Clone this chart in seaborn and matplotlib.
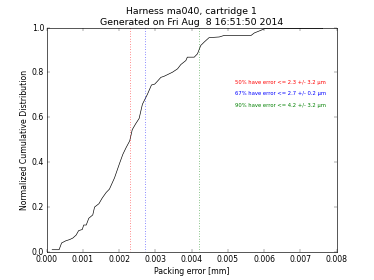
import matplotlib
matplotlib.use("Agg")
import matplotlib.pyplot as plt
import seaborn as sns
import pandas as pd

# cumulative distribution of packing error
err_mm = [0.00015, 0.00034, 0.00041, 0.00053, 0.00063, 0.00072, 0.00081, 0.00088,
          0.00098, 0.00102, 0.00109, 0.00116, 0.00127, 0.00132, 0.00144, 0.00153,
          0.00164, 0.00173, 0.00187, 0.00201, 0.00210, 0.00219, 0.00229, 0.00236,
          0.00245, 0.00255, 0.00264, 0.00278, 0.00289, 0.00298, 0.00305, 0.00315,
          0.00324, 0.00333, 0.00347, 0.00361, 0.00370, 0.00384, 0.00388, 0.00407,
          0.00416, 0.00425, 0.00435, 0.00448, 0.00476, 0.00490, 0.00564, 0.00573,
          0.00596, 0.00601, 0.00761, 0.00762]
cum_frac = [0.01, 0.01, 0.04, 0.05, 0.055, 0.062, 0.075, 0.095,
            0.10, 0.12, 0.12, 0.15, 0.165, 0.20, 0.215, 0.24,
            0.265, 0.28, 0.33, 0.395, 0.435, 0.465, 0.495, 0.545,
            0.57, 0.595, 0.658, 0.703, 0.744, 0.748, 0.760, 0.778,
            0.783, 0.790, 0.801, 0.816, 0.835, 0.853, 0.868, 0.868,
            0.883, 0.920, 0.936, 0.955, 0.958, 0.965, 0.965, 0.976,
            0.991, 0.995, 0.995, 1.0]

pct_levels = [50, 67, 90]
pct_err_um = [2.3, 2.7, 4.2]
pct_unc_um = [3.2, 0.2, 3.2]
pct_colors = ["r", "b", "g"]

plt.style.use("classic")
fig, ax = plt.subplots(figsize=(8, 6), dpi=46.75)
fig.patch.set_facecolor("white")

df = pd.DataFrame({"err": err_mm, "frac": cum_frac})
sns.lineplot(data=df, x="err", y="frac", ax=ax, color="k", lw=1.0,
             estimator=None, sort=False)

for i, (p, e, u, c) in enumerate(zip(pct_levels, pct_err_um, pct_unc_um, pct_colors)):
    ax.axvline(e / 1000.0, color=c, ls=":", lw=1.0)
    ax.text(0.65, 0.75 - 0.05 * i,
            f"{p}% have error <= {e:.1f} +/- {u:.1f} \u03bcm",
            color=c, fontsize=8, transform=ax.transAxes)

ax.set_xlim(0, 0.008)
ax.set_ylim(0, 1.0)
ax.set_xticks([i * 0.001 for i in range(9)])
ax.set_xticklabels([f"{i * 0.001:.3f}" for i in range(9)])
ax.set_yticks([0, 0.2, 0.4, 0.6, 0.8, 1.0])
ax.set_yticklabels(["0.0", "0.2", "0.4", "0.6", "0.8", "1.0"])
ax.set_xlabel("Packing error [mm]")
ax.set_ylabel("Normalized Cumulative Distribution")
ax.set_title("Harness ma040, cartridge 1\nGenerated on Fri Aug  8 16:51:50 2014")

fig.subplots_adjust(left=0.125, right=0.9, bottom=0.1, top=0.9)
fig.savefig("out.png", dpi=46.75, facecolor="white")
